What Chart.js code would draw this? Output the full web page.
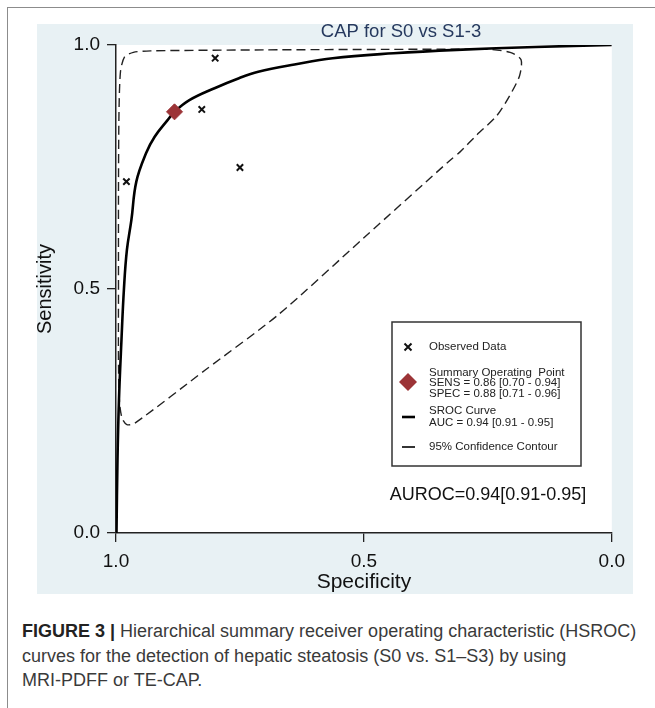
<!DOCTYPE html>
<html lang="en">
<head>
  <meta charset="UTF-8" />
  <title>CAP for S0 vs S1-3</title>
  <script src="https://cdn.jsdelivr.net/npm/chart.js"></script>
  <style>
    body { margin: 0; width: 655px; height: 708px; background: #fff; position: relative; overflow: hidden;
           font-family: "Liberation Sans", Arial, sans-serif; }
    .frame { position: absolute; left: 7px; top: 7px; width: 700px; height: 760px;
             border-left: 1.5px solid #8c8c8c; border-top: 1.5px solid #8c8c8c; }
    .panel { position: absolute; left: 37px; top: 24px; width: 596px; height: 570px; background: #e8f1f4; }
    .panel canvas { position: absolute; left: -2px; top: 0; }
    .caption { position: absolute; left: 22px; top: 619px; font-size: 18px; line-height: 24.5px;
               color: #3a3a3a; white-space: nowrap; }
    .caption b { color: #222; }
  </style>
</head>
<body>
  <div class="frame"></div>
  <div class="panel">
    <canvas id="hsroc" width="598" height="570"></canvas>
  </div>
  <div class="caption">
    <b>FIGURE 3 |</b> Hierarchical summary receiver operating characteristic (HSROC)<br>
    curves for the detection of hepatic steatosis (S0 vs. S1–S3) by using<br>
    MRI-PDFF or TE-CAP.
  </div>

  <script>
    // axis ticks
    const xTicks = [1.0, 0.5, 0.0];
    const yTicks = [0.0, 0.5, 1.0];

    // observed studies (specificity, sensitivity)
    const obsSpec = [0.800, 0.827, 0.979, 0.750];
    const obsSens = [0.973, 0.868, 0.720, 0.749];

    // summary operating point
    const summarySpec = [0.882];
    const summarySens = [0.863];

    // HSROC curve
    const srocSpec = [0.999, 0.997, 0.994, 0.989, 0.984, 0.978, 0.969, 0.959, 0.939, 0.922, 0.896,
                      0.882, 0.852, 0.800, 0.752, 0.713, 0.640, 0.563, 0.440, 0.313, 0.154, 0.0];
    const srocSens = [0.000, 0.150, 0.273, 0.395, 0.500, 0.580, 0.641, 0.720, 0.779, 0.812, 0.846,
                      0.863, 0.887, 0.912, 0.932, 0.945, 0.960, 0.973, 0.983, 0.990, 0.996, 1.0];

    // 95% confidence contour (closed loop)
    const contourSpec = [0.995, 0.995, 0.994, 0.991, 0.983, 0.965, 0.930, 0.700, 0.450, 0.250,
                         0.205, 0.183, 0.186, 0.206, 0.232, 0.272, 0.306, 0.326, 0.500, 0.673,
                         0.820, 0.962, 0.978, 0.988, 0.993, 0.995, 0.995];
    const contourSens = [0.500, 0.700, 0.860, 0.945, 0.975, 0.985, 0.988, 0.990, 0.991, 0.991,
                         0.985, 0.970, 0.937, 0.896, 0.855, 0.816, 0.781, 0.764, 0.605, 0.447,
                         0.334, 0.225, 0.222, 0.236, 0.270, 0.350, 0.500];

    const legendObserved = ['Observed Data'];
    const legendSummary = ['Summary Operating  Point', 'SENS = 0.86 [0.70 - 0.94]', 'SPEC = 0.88 [0.71 - 0.96]'];
    const legendCurve = ['SROC Curve', 'AUC = 0.94 [0.91 - 0.95]'];
    const legendContour = ['95% Confidence Contour'];
    const aurocText = 'AUROC=0.94[0.91-0.95]';
    const titleText = 'CAP for S0 vs S1-3';

    const FONT = '"Liberation Sans", Arial, sans-serif';
    const RED = '#9c3437';

    function pts(xs, ys) {
      return xs.map((x, i) => ({ x: x, y: ys[i] }));
    }

    // white plot region, title, legend box and AUROC note
    const decor = {
      id: 'decor',
      beforeDraw(chart) {
        const { ctx, chartArea: a } = chart;
        ctx.save();
        ctx.fillStyle = '#fff';
        ctx.fillRect(a.left, a.top, a.right - a.left, a.bottom - a.top);
        ctx.restore();
      },
      afterDraw(chart) {
        const ctx = chart.ctx;
        ctx.save();

        ctx.fillStyle = '#26395e';
        ctx.font = '18.5px ' + FONT;
        ctx.textAlign = 'center';
        ctx.textBaseline = 'middle';
        ctx.fillText(titleText, 366, 8);

        // legend box
        ctx.strokeStyle = '#333';
        ctx.lineWidth = 1.5;
        ctx.strokeRect(357, 298, 189, 144);

        const sx = 373, tx = 394;
        ctx.strokeStyle = '#111';
        ctx.lineWidth = 2;
        ctx.beginPath();
        ctx.moveTo(sx - 3.5, 319.5); ctx.lineTo(sx + 3.5, 326.5);
        ctx.moveTo(sx + 3.5, 319.5); ctx.lineTo(sx - 3.5, 326.5);
        ctx.stroke();

        ctx.fillStyle = RED;
        ctx.beginPath();
        ctx.moveTo(sx - 9, 358); ctx.lineTo(sx, 349); ctx.lineTo(sx + 9, 358); ctx.lineTo(sx, 367);
        ctx.closePath();
        ctx.fill();

        ctx.strokeStyle = '#000';
        ctx.lineWidth = 2.6;
        ctx.beginPath(); ctx.moveTo(sx - 6, 393); ctx.lineTo(sx + 7, 393); ctx.stroke();
        ctx.lineWidth = 1.6;
        ctx.beginPath(); ctx.moveTo(sx - 6, 423); ctx.lineTo(sx + 7, 423); ctx.stroke();

        ctx.fillStyle = '#222';
        ctx.font = '11.5px ' + FONT;
        ctx.textAlign = 'left';
        ctx.fillText(legendObserved[0], tx, 323);
        legendSummary.forEach((t, i) => ctx.fillText(t, tx, 348.5 + i * 10.6));
        legendCurve.forEach((t, i) => ctx.fillText(t, tx, 387 + i * 11.5));
        ctx.fillText(legendContour[0], tx, 423);

        ctx.fillStyle = '#111';
        ctx.font = '18px ' + FONT;
        ctx.textAlign = 'center';
        ctx.fillText(aurocText, 453, 471);
        ctx.restore();
      }
    };

    const axisGrid = { drawOnChartArea: false, drawTicks: true, tickLength: 9, color: '#222', lineWidth: 1.3 };
    const axisBorder = { display: true, color: '#222', width: 1.5 };

    new Chart(document.getElementById('hsroc').getContext('2d'), {
      type: 'scatter',
      data: {
        datasets: [
          {
            label: 'Summary Operating Point',
            data: pts(summarySpec, summarySens),
            pointStyle: 'rectRot',
            pointRadius: 8,
            backgroundColor: RED,
            borderColor: RED,
            borderWidth: 1
          },
          {
            label: 'Observed Data',
            data: pts(obsSpec, obsSens),
            pointStyle: 'crossRot',
            pointRadius: 4.5,
            borderColor: '#111',
            borderWidth: 2
          },
          {
            label: 'SROC Curve',
            data: pts(srocSpec, srocSens),
            showLine: true,
            pointRadius: 0,
            borderColor: '#000',
            borderWidth: 2.6,
            tension: 0.4
          },
          {
            label: '95% Confidence Contour',
            data: pts(contourSpec, contourSens),
            showLine: true,
            pointRadius: 0,
            borderColor: '#222',
            borderWidth: 1.4,
            borderDash: [9, 5],
            tension: 0.25
          }
        ]
      },
      options: {
        responsive: false,
        animation: false,
        layout: { padding: { top: 21, right: 16, left: 0, bottom: 0 } },
        plugins: { legend: { display: false }, tooltip: { enabled: false } },
        scales: {
          x: {
            type: 'linear',
            reverse: true,
            min: 0,
            max: 1,
            afterBuildTicks: s => { s.ticks = xTicks.map(v => ({ value: v })); },
            afterFit: s => { s.height = 61; },
            grid: axisGrid,
            border: axisBorder,
            ticks: { color: '#111', padding: 8, font: { family: FONT, size: 19 }, callback: v => v.toFixed(1) },
            title: { display: true, text: 'Specificity', color: '#111', padding: 0,
                     font: { family: FONT, size: 21, lineHeight: 1.15 } }
          },
          y: {
            type: 'linear',
            min: 0,
            max: 1,
            afterBuildTicks: s => { s.ticks = yTicks.map(v => ({ value: v })); },
            afterFit: s => { s.width = 81; },
            grid: axisGrid,
            border: axisBorder,
            ticks: { color: '#111', padding: 7, font: { family: FONT, size: 19 }, callback: v => v.toFixed(1) },
            title: { display: true, text: 'Sensitivity', color: '#111', padding: 0,
                     font: { family: FONT, size: 20, lineHeight: 1 } }
          }
        }
      },
      plugins: [decor]
    });
  </script>
</body>
</html>
